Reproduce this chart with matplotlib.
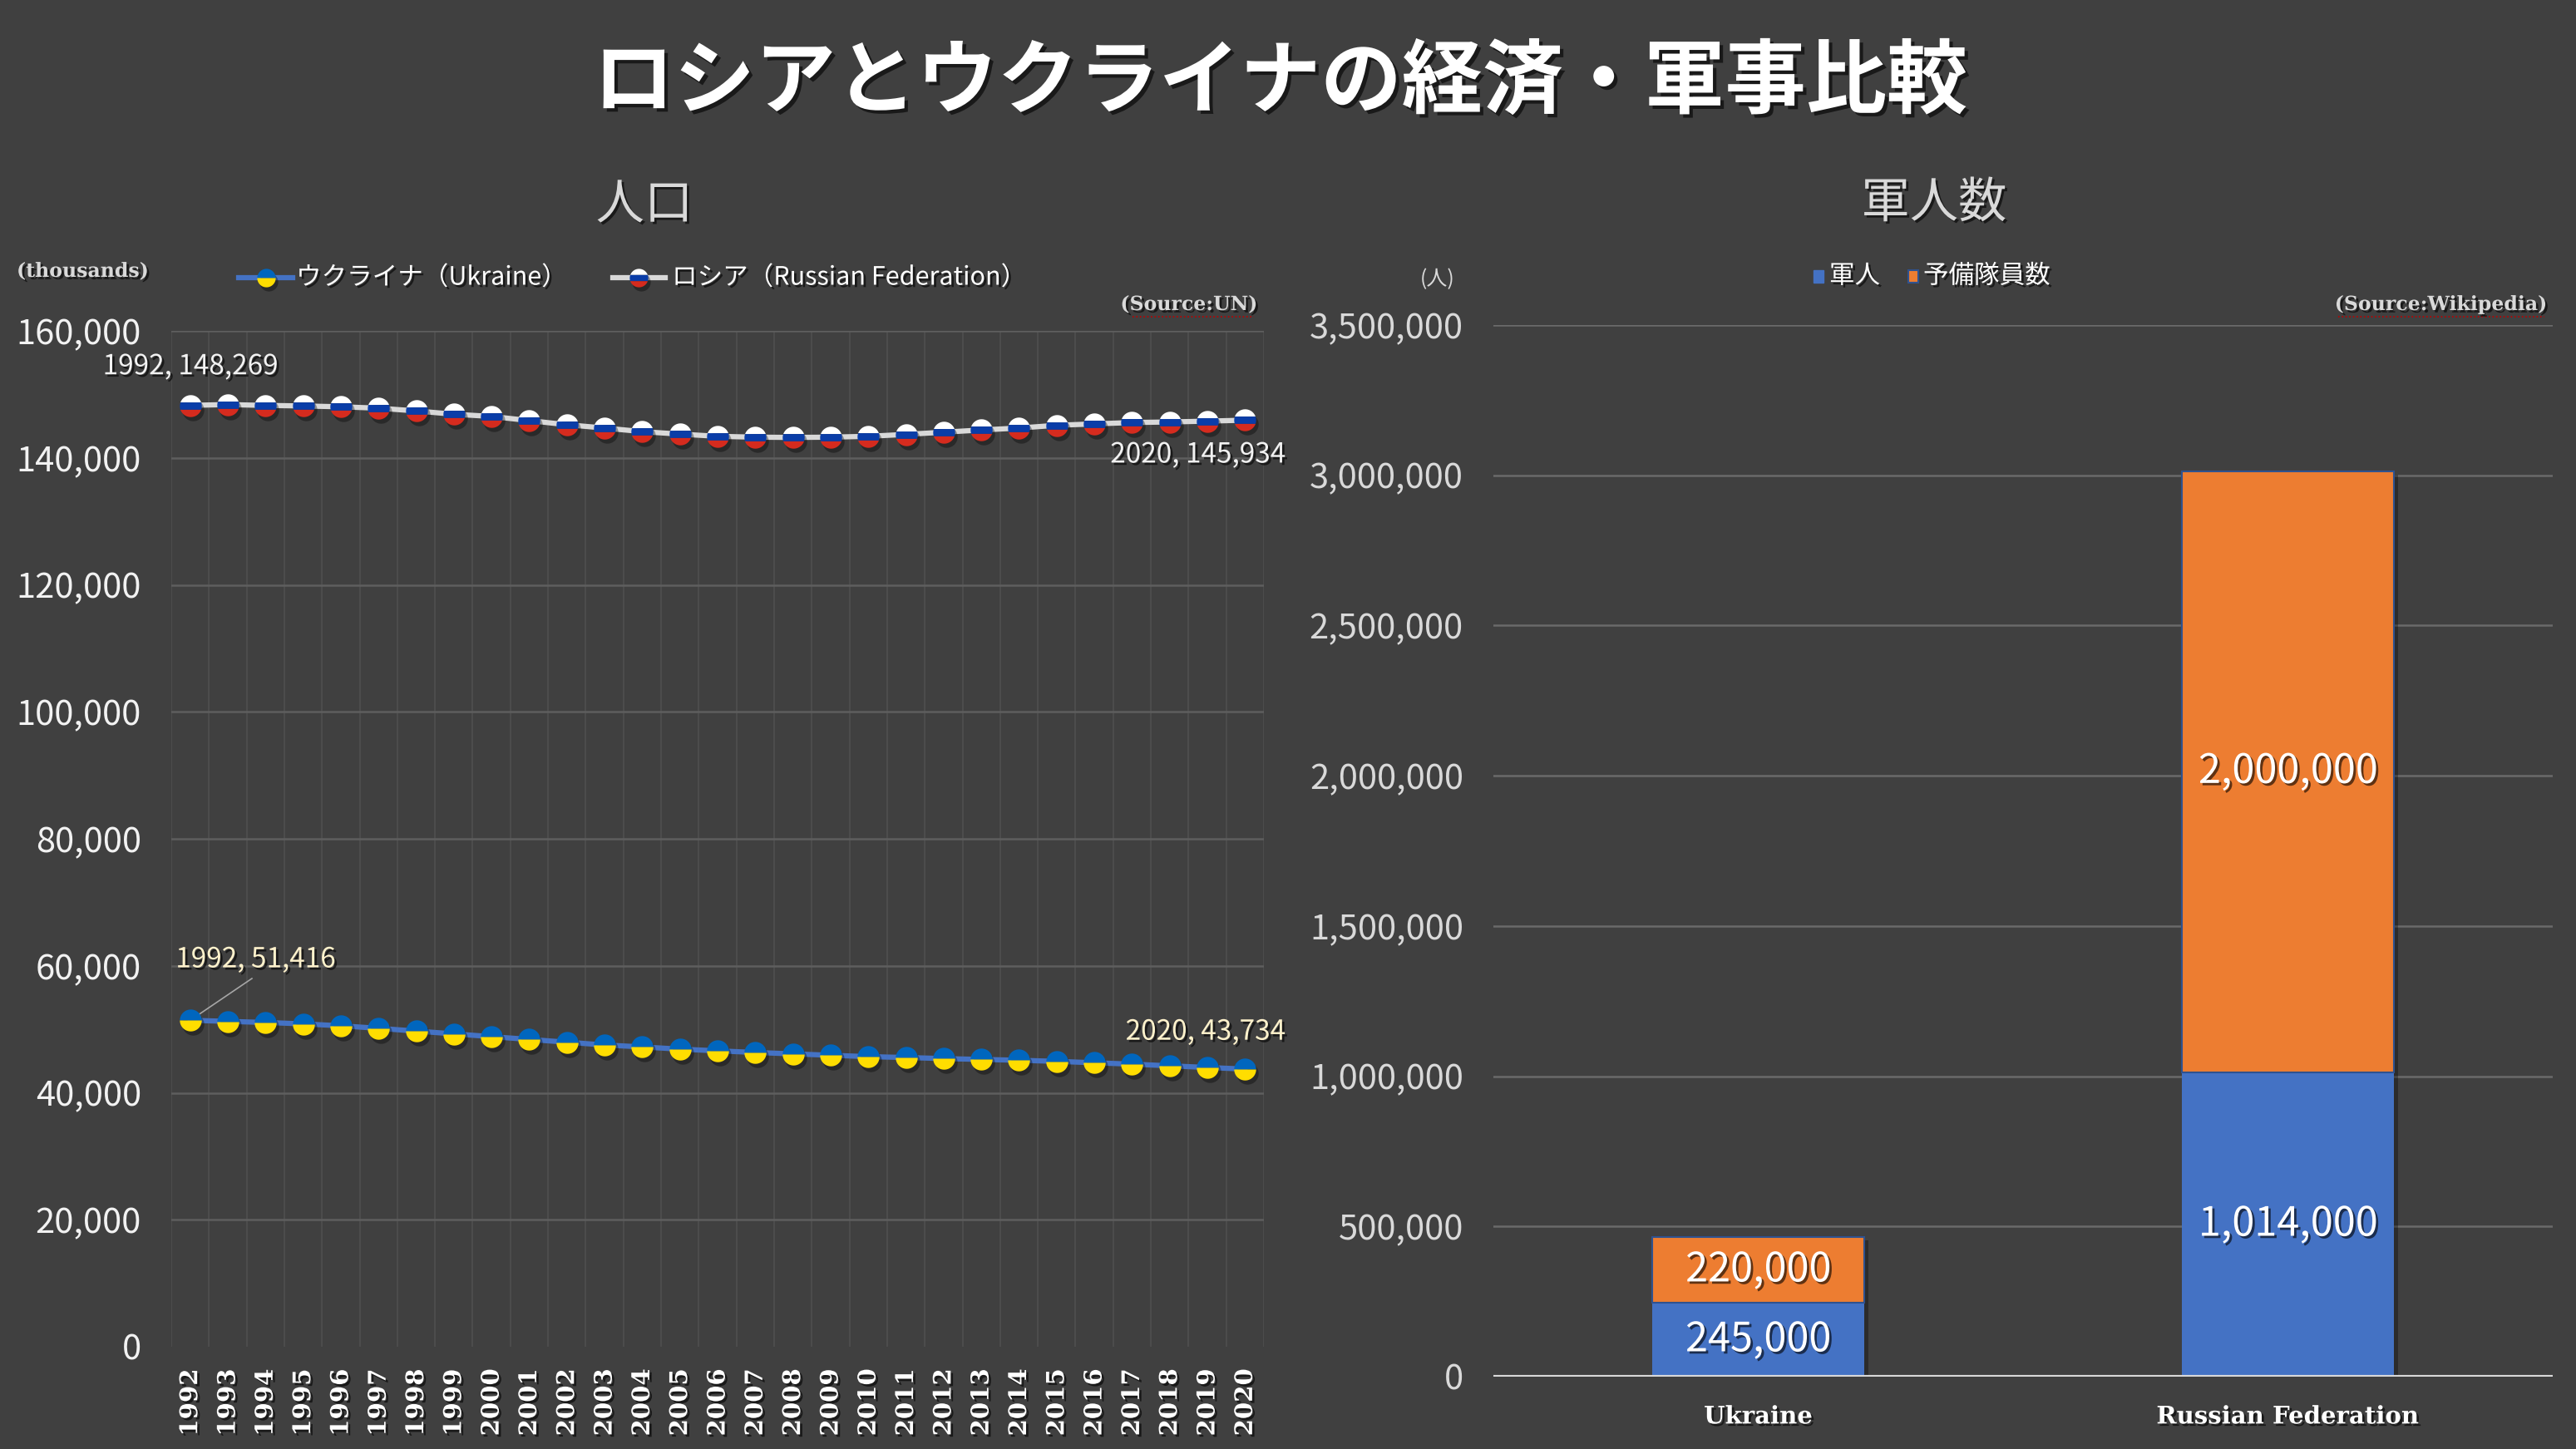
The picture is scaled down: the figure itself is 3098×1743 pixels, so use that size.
import matplotlib
matplotlib.use('Agg')
import matplotlib.pyplot as plt
import matplotlib.patheffects as pe
import matplotlib.transforms as mtrans
from matplotlib.path import Path
import numpy as np

plt.rcParams['font.family'] = ['Noto Sans CJK JP', 'DejaVu Sans']

# population (thousands), UN
years = list(range(1992, 2021))
ukraine_pop = [51416, 51248, 51073, 50854, 50548, 50154, 49716, 49279, 48841, 48403,
               47966, 47528, 47222, 46872, 46609, 46347, 46128, 45909, 45690, 45559,
               45384, 45253, 45122, 44947, 44728, 44509, 44246, 43984, 43734]
russia_pop = [148269, 148391, 148260, 148174, 148043, 147826, 147391, 146870, 146522, 145870,
              145217, 144696, 144130, 143739, 143391, 143261, 143217, 143261, 143391, 143696,
              144043, 144391, 144696, 145130, 145348, 145565, 145652, 145783, 145934]

# military personnel, Wikipedia
countries = ['Ukraine', 'Russian Federation']
active = [245000, 1014000]
reserve = [220000, 2000000]

BG = '#404040'
W, H = 3098, 1743
serif_bold = dict(family='DejaVu Serif', weight='bold')
shadow = [pe.withSimplePatchShadow(offset=(2, -2), shadow_rgbFace='black', alpha=0.6)]


def arc(t0, t1, n=40):
    t = np.linspace(t0, t1, n)
    return np.column_stack([np.cos(t), np.sin(t)])


a = np.arcsin(1 / 3)
ua_parts = [(Path(arc(0, np.pi)), '#0066be'),
            (Path(arc(np.pi, 2 * np.pi)), '#ffdd00')]
ru_parts = [(Path(arc(a, np.pi - a)), '#ffffff'),
            (Path(np.vstack([arc(-a, a), arc(np.pi - a, np.pi + a)])), '#0a3da8'),
            (Path(arc(np.pi + a, 2 * np.pi - a)), '#d52b1e')]


def draw_flags(ax, x, y, parts, ms=19, z=5):
    sh = mtrans.offset_copy(ax.transData, fig=ax.figure, x=3, y=-5, units='dots')
    ax.plot(x, y, ls='none', marker='o', ms=ms, mfc='black', mew=0, alpha=0.35,
            transform=sh, zorder=z, clip_on=False)
    for path, color in parts:
        ax.plot(x, y, ls='none', marker=path, ms=ms, mfc=color, mew=0,
                zorder=z + 0.1, clip_on=False)


fig = plt.figure(figsize=(W / 100, H / 100), dpi=100, facecolor=BG)

# ---------------- population line chart
ax1 = fig.add_axes([206 / W, 1 - 1620 / H, (1520 - 206) / W, (1620 - 398) / H])
ax1.set_facecolor(BG)
for s in ax1.spines.values():
    s.set_visible(False)
xi = np.arange(len(years))
ax1.set_xlim(-0.5, len(years) - 0.5)
ax1.set_ylim(0, 160000)
yt = np.arange(0, 160001, 20000)
ax1.set_yticks(yt)
ax1.set_yticklabels([f'{v:,}' for v in yt], fontsize=30, color='#f2f2f2')
ax1.set_xticks(xi)
ax1.set_xticklabels([str(y) for y in years], rotation=90, fontsize=21, color='white',
                    path_effects=shadow, **serif_bold)
ax1.set_xticks(np.arange(-0.5, len(years), 1), minor=True)
ax1.tick_params(which='both', length=0)
ax1.tick_params(axis='y', pad=26)
ax1.tick_params(axis='x', pad=19)
ax1.grid(which='minor', axis='x', color='#4f4f4f', lw=1.2, zorder=0)
ax1.grid(which='major', axis='y', color='#5e5e5e', lw=1.8, zorder=0)
ax1.yaxis.get_gridlines()[0].set_visible(False)

ax1.plot(xi, ukraine_pop, color='#4472c4', lw=4.5, zorder=3)
ax1.plot(xi, russia_pop, color='#d9d9d9', lw=4.5, zorder=3)
draw_flags(ax1, xi, ukraine_pop, ua_parts)
draw_flags(ax1, xi, russia_pop, ru_parts)

ax1.text(0, 154400, f'{years[0]}, {russia_pop[0]:,}', ha='center', va='center',
         fontsize=24, color='#f2f2f2', path_effects=shadow)
ax1.text(29.06, 140500, f'{years[-1]}, {russia_pop[-1]:,}', ha='right', va='center',
         fontsize=24, color='#f2f2f2', path_effects=shadow, clip_on=False)
ax1.text(1.73, 61000, f'{years[0]}, {ukraine_pop[0]:,}', ha='center', va='center',
         fontsize=24, color='#fff2cc', path_effects=shadow)
ax1.plot([1.64, 0.05], [58000, 51600], color='#a6a6a6', lw=1.2, zorder=4)
ax1.text(29.06, 49600, f'{years[-1]}, {ukraine_pop[-1]:,}', ha='right', va='center',
         fontsize=24, color='#fff2cc', path_effects=shadow, clip_on=False)

# ---------------- military bar chart
ax2 = fig.add_axes([1796 / W, 1 - 1656 / H, (3070 - 1796) / W, (1656 - 391) / H])
ax2.set_facecolor(BG)
for s in ax2.spines.values():
    s.set_visible(False)
xb = np.arange(len(countries))
ax2.set_xlim(-0.5, 1.5)
ax2.set_ylim(0, 3500000)
yt2 = np.arange(0, 3500001, 500000)
ax2.set_yticks(yt2)
ax2.set_yticklabels([f'{v:,}' for v in yt2], fontsize=30, color='#d9d9d9')
ax2.set_xticks(xb)
ax2.set_xticklabels(countries, fontsize=21, color='white', path_effects=shadow, **serif_bold)
ax2.tick_params(length=0)
ax2.tick_params(axis='y', pad=26)
ax2.tick_params(axis='x', pad=24)
ax2.grid(axis='y', color='#6a6a6a', lw=1.8, zorder=0)
ax2.set_axisbelow(True)
ax2.axhline(0, color='#d9d9d9', lw=3, zorder=4)

totals = [p + r for p, r in zip(active, reserve)]
sh2 = mtrans.offset_copy(ax2.transData, fig=fig, x=5, y=-4, units='dots')
ax2.bar(xb, totals, 0.4, color='black', alpha=0.3, transform=sh2, zorder=2)
ax2.bar(xb, active, 0.4, color='#4472c4', zorder=3)
ax2.bar(xb, reserve, 0.4, bottom=active, color='#ed7d31', edgecolor='#2f528f', lw=1.5, zorder=3)
for i in xb:
    ax2.text(i, active[i] / 2, f'{active[i]:,}', ha='center', va='center', fontsize=35,
             color='white', path_effects=shadow, zorder=6)
    ax2.text(i, active[i] + reserve[i] / 2, f'{reserve[i]:,}', ha='center', va='center',
             fontsize=35, color='white', path_effects=shadow, zorder=6)

# ---------------- titles, legends, notes (pixel overlay)
ov = fig.add_axes([0, 0, 1, 1])
ov.set_xlim(0, W)
ov.set_ylim(H, 0)
ov.axis('off')

ov.text(1540, 100, 'ロシアとウクライナの経済・軍事比較', ha='center', va='center', fontsize=70,
        fontweight='bold', color='white', path_effects=[
            pe.withSimplePatchShadow(offset=(3, -3), shadow_rgbFace='black', alpha=0.6)])
ov.text(775, 247, '人口', ha='center', va='center', fontsize=42, color='#d9d9d9',
        path_effects=shadow)
ov.text(2326, 245, '軍人数', ha='center', va='center', fontsize=42, color='#d9d9d9',
        path_effects=shadow)

ov.text(20, 326, '(thousands)', ha='left', va='center', fontsize=17, color='#d9d9d9',
        path_effects=shadow, **serif_bold)
ov.text(1512, 366, '(Source:UN)', ha='right', va='center', fontsize=17, color='#d9d9d9',
        path_effects=shadow, **serif_bold)
ov.plot([1362, 1508], [381, 381], color='#c00000', lw=1.2, ls=':')
ov.text(3063, 366, '(Source:Wikipedia)', ha='right', va='center', fontsize=17,
        color='#d9d9d9', path_effects=shadow, **serif_bold)
ov.plot([2812, 3060], [381, 381], color='#c00000', lw=1.2, ls=':')
ov.text(1729, 336, '(人)', ha='center', va='center', fontsize=18, color='#d9d9d9')

# population legend
ov.plot([287, 352], [334, 334], color='#4472c4', lw=4.5, zorder=3)
draw_flags(ov, [320], [334], ua_parts, ms=16)
ov.text(356, 334, 'ウクライナ（Ukraine）', ha='left', va='center', fontsize=22,
        color='white', path_effects=shadow)
ov.plot([737, 800], [334, 334], color='#d9d9d9', lw=4.5, zorder=3)
draw_flags(ov, [768], [334], ru_parts, ms=16)
ov.text(808, 334, 'ロシア（Russian Federation）', ha='left', va='center', fontsize=22,
        color='white', path_effects=shadow)

# bar legend
ov.add_patch(plt.Rectangle((2181, 325), 12, 15, color='#4472c4'))
ov.text(2200, 332, '軍人', ha='left', va='center', fontsize=22, color='white',
        path_effects=shadow)
ov.add_patch(plt.Rectangle((2295, 325), 12, 15, facecolor='#ed7d31', edgecolor='#2f528f', lw=1.5))
ov.text(2313, 332, '予備隊員数', ha='left', va='center', fontsize=22, color='white',
        path_effects=shadow)

fig.savefig('out.png', dpi=100, facecolor=BG)
